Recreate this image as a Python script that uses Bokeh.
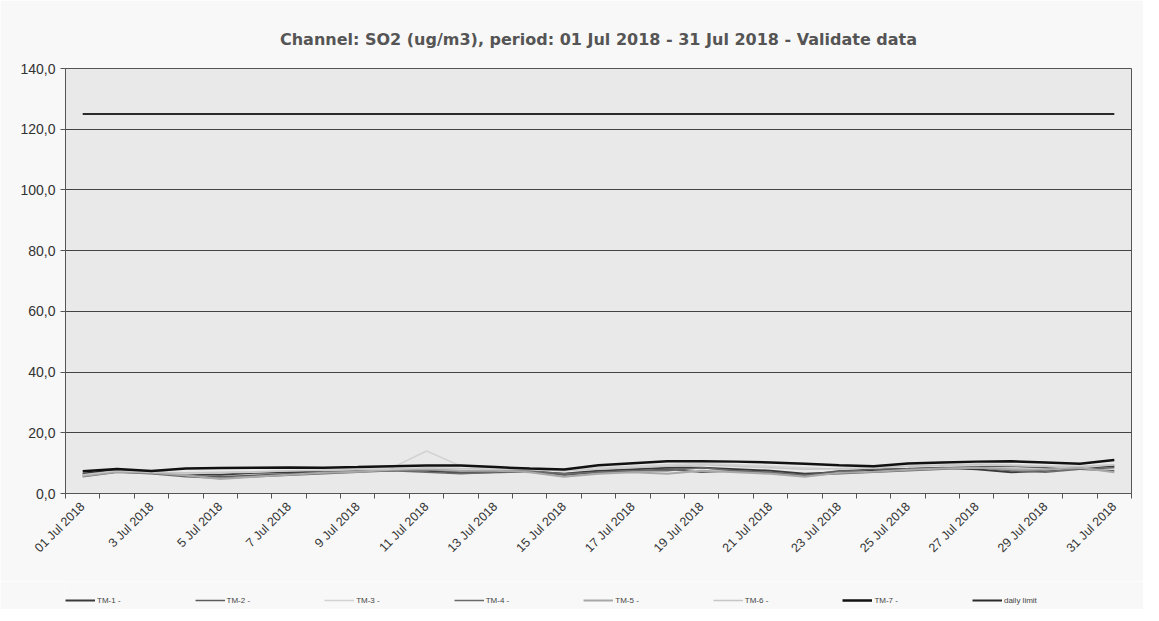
import math
from bokeh.plotting import figure
from bokeh.layouts import column
from bokeh.models import FixedTicker, Legend, LegendItem, ColumnDataSource
from bokeh.embed import file_html
from bokeh.resources import INLINE

days = list(range(1, 32))
x_labels = ["01 Jul 2018"] + [f"{d} Jul 2018" for d in range(2, 32)]
y_ticks = [0, 20, 40, 60, 80, 100, 120, 140]
y_labels = ["0,0", "20,0", "40,0", "60,0", "80,0", "100,0", "120,0", "140,0"]

tm1 = [6.5, 7.8, 7.0, 6.5, 6.2, 6.8, 7.0, 7.2, 7.5, 7.8, 7.5, 6.8, 7.0, 7.2, 6.5, 7.5,
       8.0, 8.5, 8.5, 8.0, 7.5, 6.5, 7.0, 7.5, 8.0, 8.5, 8.0, 7.0, 7.5, 8.5, 9.0]
tm2 = [6.0, 7.5, 6.8, 6.0, 5.5, 6.0, 6.5, 7.0, 7.3, 7.5, 7.8, 7.0, 7.3, 7.5, 6.0, 7.0,
       7.5, 8.0, 7.0, 7.5, 7.0, 6.0, 7.5, 8.0, 8.2, 8.5, 8.8, 9.0, 8.5, 8.0, 7.5]
tm3 = [6.0, 7.0, 6.5, 6.5, 6.8, 7.0, 7.5, 7.8, 8.0, 8.5, 14.0, 9.0, 8.5, 8.3, 8.0, 8.5,
       9.0, 9.5, 10.0, 9.5, 9.0, 8.5, 8.0, 8.5, 9.0, 9.5, 9.8, 9.5, 9.0, 8.5, 9.5]
tm4 = [5.5, 7.0, 6.5, 5.5, 5.0, 5.5, 6.0, 6.5, 7.0, 7.5, 7.0, 6.5, 7.0, 7.5, 6.5, 7.0,
       7.5, 7.5, 8.5, 7.5, 7.0, 6.0, 6.5, 7.0, 7.5, 8.0, 8.5, 7.5, 7.0, 8.0, 8.5]
tm5 = [5.8, 7.2, 6.8, 6.0, 4.8, 5.5, 6.2, 6.8, 7.2, 7.8, 8.0, 7.5, 7.5, 7.0, 5.5, 6.5,
       7.0, 6.5, 7.5, 7.0, 6.5, 5.5, 6.8, 7.2, 7.8, 8.2, 8.5, 8.0, 7.8, 8.5, 7.0]
tm6 = [6.2, 7.5, 7.0, 6.8, 7.0, 7.2, 7.5, 7.6, 7.8, 8.0, 8.5, 8.2, 8.0, 7.8, 7.5, 8.0,
       8.5, 9.0, 9.5, 9.0, 8.5, 8.0, 8.2, 8.5, 9.0, 9.2, 9.5, 9.2, 9.0, 9.0, 9.5]
tm7 = [7.3, 8.1, 7.4, 8.2, 8.4, 8.5, 8.6, 8.5, 8.7, 9.0, 9.2, 9.2, 8.7, 8.2, 7.9, 9.3,
       10.0, 10.6, 10.6, 10.5, 10.2, 9.8, 9.3, 9.0, 9.9, 10.2, 10.5, 10.6, 10.2, 9.8, 11.0]
daily_limit = [125.0] * 31

series_names = ["TM-1 -", "TM-2 -", "TM-3 -", "TM-4 -", "TM-5 -", "TM-6 -", "TM-7 -", "daily limit"]
series_values = [tm1, tm2, tm3, tm4, tm5, tm6, tm7, daily_limit]
series_colors = ["#3a3a3a", "#5c5c5c", "#d2d2d2", "#6a6a6a", "#a8a8a8", "#c6c6c6", "#111111", "#2a2a2a"]
series_widths = [2, 1.5, 1.5, 1.5, 2, 1.5, 2.5, 2]

BG = "#f8f8f8"

p = figure(frame_width=1066, frame_height=425, x_range=(0.5, 31.5), y_range=(0, 140),
           output_backend="svg", toolbar_location=None,
           min_border_left=65, min_border_right=12, min_border_top=68, min_border_bottom=88,
           title="Channel: SO2 (ug/m3), period: 01 Jul 2018 - 31 Jul 2018 - Validate data")

p.background_fill_color = "#e9e9e9"
p.border_fill_color = BG
p.outline_line_color = "#555555"
p.outline_line_width = 1

p.title.align = "center"
p.title.text_font = "DejaVu Sans"
p.title.text_font_size = "16px"
p.title.text_font_style = "bold"
p.title.text_color = "#555555"
p.title.standoff = 39

sources = []
for vals, col, w in zip(series_values, series_colors, series_widths):
    src = ColumnDataSource(dict(x=days, y=vals))
    sources.append(src)
    p.line("x", "y", source=src, line_color=col, line_width=w)

# axes
p.xaxis.ticker = FixedTicker(ticks=days[::2], minor_ticks=[d + 0.5 for d in range(0, 32)])
p.xaxis.major_label_overrides = {d: lab for d, lab in zip(days, x_labels)}
p.xaxis.major_label_orientation = math.pi / 4
p.xaxis.major_tick_out = 0
p.xaxis.major_tick_in = 0
p.xaxis.minor_tick_out = 5
p.xaxis.minor_tick_in = 0
p.xaxis.minor_tick_line_color = "#555555"
p.xaxis.axis_line_color = "#555555"
p.xaxis.major_label_text_font = "Liberation Sans"
p.xaxis.major_label_text_font_size = "12.5px"
p.xaxis.major_label_text_color = "#333333"
p.xaxis.major_label_standoff = 6

p.yaxis.ticker = FixedTicker(ticks=y_ticks, minor_ticks=[])
p.yaxis.major_label_overrides = {t: lab for t, lab in zip(y_ticks, y_labels)}
p.yaxis.major_tick_out = 5
p.yaxis.major_tick_in = 0
p.yaxis.minor_tick_out = 0
p.yaxis.minor_tick_in = 0
p.yaxis.axis_line_color = "#555555"
p.yaxis.major_tick_line_color = "#555555"
p.yaxis.major_label_text_font = "Liberation Sans"
p.yaxis.major_label_text_font_size = "14px"
p.yaxis.major_label_text_color = "#333333"
p.yaxis.major_label_standoff = 5

p.xgrid.grid_line_color = None
p.ygrid.ticker = FixedTicker(ticks=y_ticks)
p.ygrid.grid_line_color = "#444444"
p.ygrid.grid_line_width = 1

# legend strip below the chart (same series, drawn outside this strip's visible range)
lg = figure(width=1143, height=28, output_backend="svg", toolbar_location=None,
            x_axis_type=None, y_axis_type=None, min_border=0,
            x_range=(0.5, 31.5), y_range=(500, 600))
lg.outline_line_color = None
lg.background_fill_color = BG
lg.border_fill_color = BG
lg.xgrid.grid_line_color = None
lg.ygrid.grid_line_color = None

items = []
for name, src, col, w in zip(series_names, sources, series_colors, series_widths):
    r = lg.line("x", "y", source=src, line_color=col, line_width=w)
    items.append(LegendItem(label=name, renderers=[r]))

legend = Legend(items=items, orientation="horizontal", location=(0, 4),
                glyph_width=30, glyph_height=10, label_standoff=2, spacing=74,
                label_text_font="Liberation Sans", label_text_font_size="8px",
                label_text_color="#444444", background_fill_alpha=0,
                border_line_color=None, padding=0, margin=0)
lg.add_layout(legend, "center")

layout = column(p, lg, spacing=0)
open("out.html", "w").write(file_html(layout, INLINE))
